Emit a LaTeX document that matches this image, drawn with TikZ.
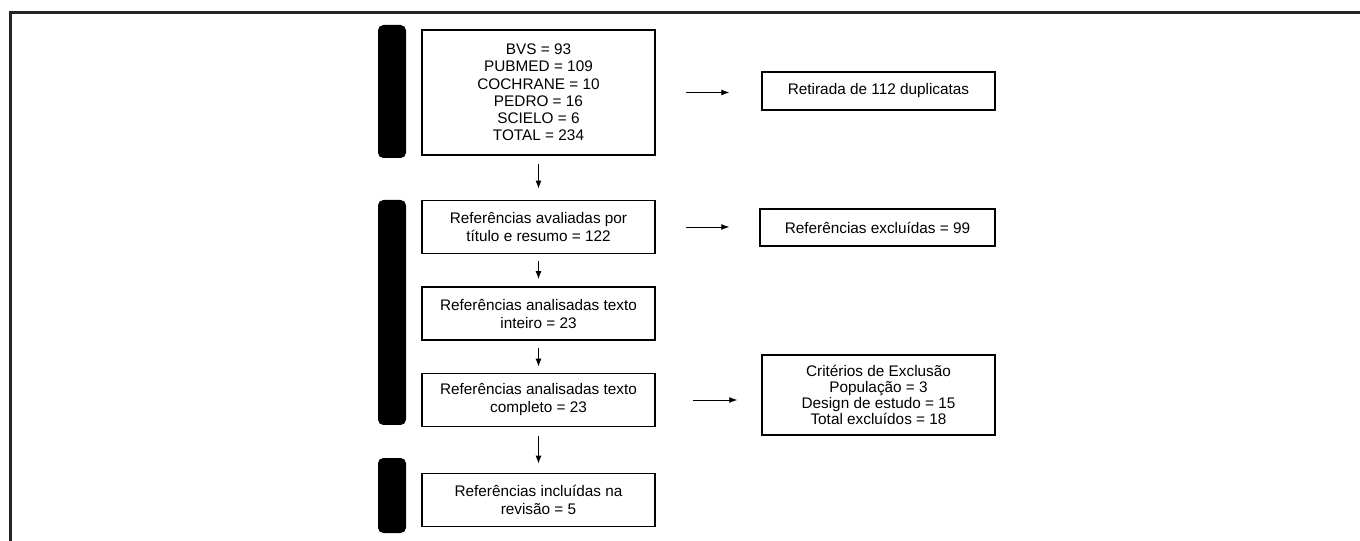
\documentclass[tikz,border=0pt]{standalone}
\usepackage{fontspec}
\setmainfont{Liberation Sans}
\usetikzlibrary{positioning,arrows.meta}

\begin{document}
\begin{tikzpicture}[x=0.75pt,y=-0.75pt,
	caixa/.style={draw,line width=1.1pt,align=center,inner sep=0pt,minimum width=174.75pt,minimum height=40pt,font=\fontsize{11.5}{13.5}\selectfont},
	seta/.style={-{Latex[length=6pt,width=4.5pt]},line width=0.7pt}]
	\useasboundingbox (0,0) rectangle (1360,541);
	\draw[line width=1.9pt,black!85] (10.5,541) -- (10.5,12.5) -- (1360,12.5);
	\fill[rounded corners=4pt] (378,25) rectangle (406,158);
	\fill[rounded corners=4pt] (378,200) rectangle (406,425);
	\fill[rounded corners=4pt] (378,458) rectangle (406,533);

	\node[caixa,minimum height=93.75pt,font=\fontsize{11.5}{12.9}\selectfont] (bases) at (538.5,92.5) {BVS = 93\\PUBMED = 109\\COCHRANE = 10\\PEDRO = 16\\SCIELO = 6\\TOTAL = 234};
	\node[caixa] (titulo) at (538.5,227) {Referências avaliadas por\\título e resumo = 122};
	\node[caixa] (inteiro) at (538.5,313.5) {Referências analisadas texto\\inteiro = 23};
	\node[caixa] (completo) at (538.5,400) {Referências analisadas texto\\completo = 23};
	\node[caixa] (incluidas) at (538.5,500) {Referências incluídas na\\revisão = 5};

	\node[caixa,minimum height=28.5pt] (duplicatas) at (878.5,91) {Retirada de 112 duplicatas};
	\node[caixa,minimum width=176.25pt,minimum height=27.75pt] (excluidas) at (877.5,227.5) {Referências excluídas = 99};
	\node[caixa,minimum height=60pt,font=\fontsize{11.5}{12.2}\selectfont] (criterios) at (878.5,395) {Critérios de Exclusão\\População = 3\\Design de estudo = 15\\Total excluídos = 18};

	\draw[seta,shorten <=6pt,shorten >=8.25pt] (bases) -- (titulo);
	\draw[seta,shorten <=5.25pt,shorten >=5.25pt] (titulo) -- (inteiro);
	\draw[seta,shorten <=5.25pt,shorten >=4.5pt] (inteiro) -- (completo);
	\draw[seta,shorten <=6.75pt,shorten >=6.75pt] (completo) -- (incluidas);
	\draw[seta,shorten <=22.5pt,shorten >=24pt] (bases.east) -- (bases.east -| duplicatas.west);
	\draw[seta,shorten <=22.5pt,shorten >=22.5pt] (titulo.east) -- (titulo.east -| excluidas.west);
	\draw[seta,shorten <=27.75pt,shorten >=18pt] (completo.east) -- (completo.east -| criterios.west);
\end{tikzpicture}
\end{document}
